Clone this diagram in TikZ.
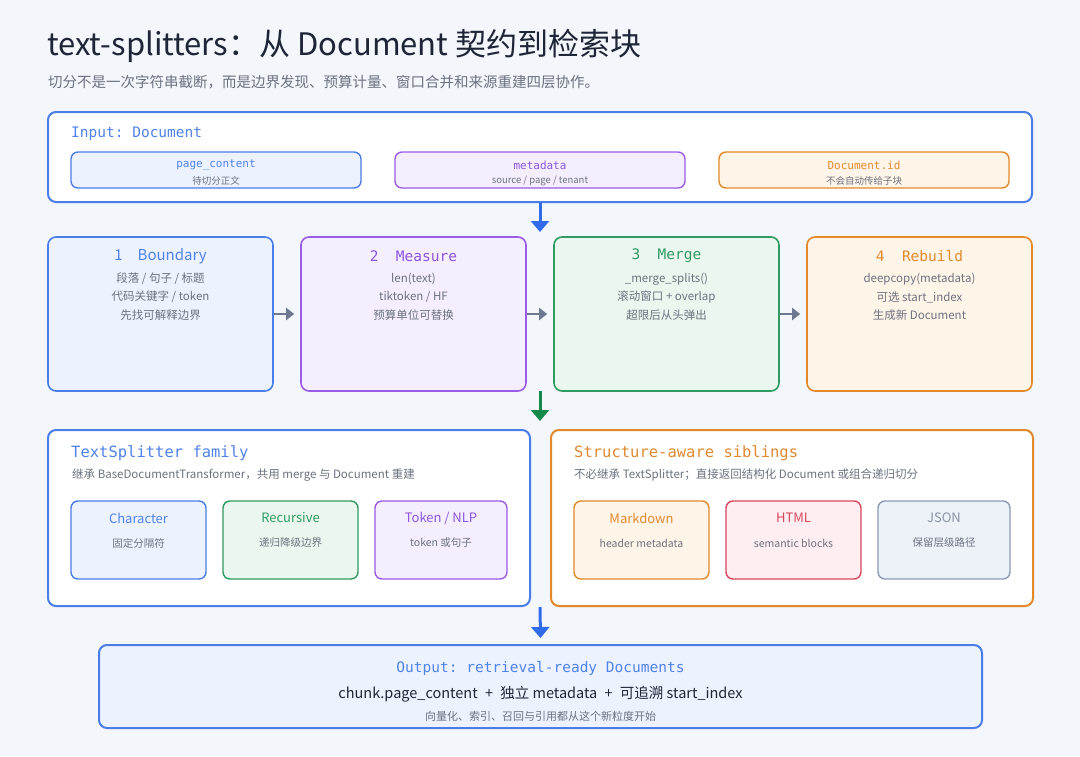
\documentclass[tikz,border=0pt]{standalone}
\usepackage{fontspec}
\setmainfont{Noto Sans CJK SC}
\setmonofont{DejaVu Sans Mono}
\usetikzlibrary{arrows.meta}
\definecolor{bgc}{HTML}{F3F6FA}
\definecolor{darkc}{HTML}{1E2537}
\definecolor{grayc}{HTML}{6B7280}
\definecolor{blueb}{HTML}{4A7DE8}
\definecolor{bluet}{HTML}{4F82EA}
\definecolor{bluef}{HTML}{EDF3FE}
\definecolor{purpb}{HTML}{9A5CE6}
\definecolor{purpt}{HTML}{8C55E0}
\definecolor{purpf}{HTML}{F5EEFE}
\definecolor{greenb}{HTML}{2E9B62}
\definecolor{greent}{HTML}{2F9A64}
\definecolor{greenf}{HTML}{EAF7EE}
\definecolor{orangeb}{HTML}{E2892A}
\definecolor{oranget}{HTML}{E0892E}
\definecolor{orangef}{HTML}{FFF4E8}
\definecolor{redb}{HTML}{D8465E}
\definecolor{redt}{HTML}{D8465E}
\definecolor{redf}{HTML}{FEEEF1}
\definecolor{slateb}{HTML}{8C9BB5}
\definecolor{slatet}{HTML}{8A94A6}
\definecolor{slatef}{HTML}{EDF1F8}
\definecolor{arrblue}{HTML}{2F6BEA}
\definecolor{arrgreen}{HTML}{15894B}
\definecolor{arrgray}{HTML}{6E7891}
\tikzset{
  outerbox/.style={draw, rounded corners=8pt, line width=2pt, inner sep=0pt},
  subbox/.style={draw, rounded corners=7pt, line width=1.4pt, inner sep=0pt},
  txt/.style={inner sep=0pt, anchor=center},
  monolabel/.style={txt, font=\ttfamily\fontsize{11}{13}\selectfont},
  smallgray/.style={txt, text=grayc, font=\fontsize{9.5}{11}\selectfont},
  stagetitle/.style={txt, font=\fontsize{15}{18}\selectfont},
  stagemono/.style={txt, font=\ttfamily\fontsize{14.5}{18}\selectfont},
  stageline/.style={txt, text=grayc, font=\fontsize{11.5}{14}\selectfont},
  grouptitle/.style={inner sep=0pt, anchor=west, font=\ttfamily\fontsize{15.5}{18}\selectfont},
  groupsub/.style={inner sep=0pt, anchor=west, text=grayc, font=\fontsize{11.5}{14}\selectfont},
  childtitle/.style={txt, font=\fontsize{13}{15}\selectfont},
  childsub/.style={txt, text=grayc, font=\fontsize{10.5}{12}\selectfont},
  bigarrow/.style={line width=3pt, -{Triangle[length=11pt,width=18pt]}},
  smallarrow/.style={line width=2.4pt, draw=arrgray, -{Triangle[length=8pt,width=12pt]}},
}
\begin{document}
\begin{tikzpicture}[x=1pt,y=-1pt]
\fill[bgc] (0,0) rectangle (1080,756);
\useasboundingbox (0,0) rectangle (1080,756);

% Title
\node[inner sep=0pt, anchor=base west, text=darkc, font=\fontsize{31}{37}\selectfont] (title) at (47,55) {text-splitters：从 Document 契约到检索块};
\node[inner sep=0pt, anchor=base west, text=grayc, font=\fontsize{14.5}{17}\selectfont] (subtitle) at (48,87) {切分不是一次字符串截断，而是边界发现、预算计量、窗口合并和来源重建四层协作。};

% Input box
\node[outerbox, draw=blueb, fill=white, minimum width=984pt, minimum height=90pt] (input) at (540,157) {};
\node[inner sep=0pt, anchor=west, text=bluet, font=\ttfamily\fontsize{14.5}{17}\selectfont] (inlabel) at (71,134) {Input: Document};
\node[subbox, draw=blueb, fill=bluef, minimum width=290pt, minimum height=36pt] (pc) at (216,170) {};
\node[monolabel, text=bluet] (pcl) at (216,165) {page\_content};
\node[smallgray] (pcs) at (216,181) {待切分正文};
\node[subbox, draw=purpb, fill=purpf, minimum width=290pt, minimum height=36pt] (md) at (540,170) {};
\node[monolabel, text=purpt] (mdl) at (540,165) {metadata};
\node[smallgray] (mds) at (540,181) {source / page / tenant};
\node[subbox, draw=orangeb, fill=orangef, minimum width=290pt, minimum height=36pt] (did) at (864,170) {};
\node[monolabel, text=oranget] (didl) at (864,165) {Document.id};
\node[smallgray] (dids) at (864,181) {不会自动传给子块};

% Stage boxes
\node[outerbox, line width=1.6pt, draw=blueb, fill=bluef, minimum width=225pt, minimum height=154pt] (s1) at (160.5,314) {};
\node[stagetitle, text=bluet] (s1t) at (160.5,256) {1\hspace{1em}Boundary};
\node[stageline] (s1a) at (160.5,279) {段落 / 句子 / 标题};
\node[stageline] (s1b) at (160.5,297) {代码关键字 / token};
\node[stageline] (s1c) at (160.5,315) {先找可解释边界};

\node[outerbox, line width=1.6pt, draw=purpb, fill=purpf, minimum width=225pt, minimum height=154pt] (s2) at (413.5,314) {};
\node[stagemono, text=purpt] (s2t) at (413.5,256) {2\hspace{1.2em}Measure};
\node[stageline] (s2a) at (413.5,279) {len(text)};
\node[stageline] (s2b) at (413.5,297) {tiktoken / HF};
\node[stageline] (s2c) at (413.5,315) {预算单位可替换};

\node[outerbox, line width=1.6pt, draw=greenb, fill=greenf, minimum width=225pt, minimum height=154pt] (s3) at (666.5,314) {};
\node[stagemono, text=greent] (s3t) at (666.5,256) {3\hspace{1.2em}Merge};
\node[stageline] (s3a) at (666.5,279) {\_merge\_splits()};
\node[stageline] (s3b) at (666.5,297) {滚动窗口 + overlap};
\node[stageline] (s3c) at (666.5,315) {超限后从头弹出};

\node[outerbox, line width=1.6pt, draw=orangeb, fill=orangef, minimum width=225pt, minimum height=154pt] (s4) at (919.5,314) {};
\node[stagemono, text=oranget] (s4t) at (919.5,256) {4\hspace{1.2em}Rebuild};
\node[stageline] (s4a) at (919.5,279) {deepcopy(metadata)};
\node[stageline] (s4b) at (919.5,297) {可选 start\_index};
\node[stageline] (s4c) at (919.5,315) {生成新 Document};

\draw[smallarrow] (s1.east) -- ([xshift=-6pt]s2.west);
\draw[smallarrow] (s2.east) -- ([xshift=-6pt]s3.west);
\draw[smallarrow] (s3.east) -- ([xshift=-6pt]s4.west);

% Arrows between rows
\coordinate (a1e) at (540,232);
\draw[bigarrow, draw=arrblue, fill=arrblue] (input.south) -- (a1e);
\coordinate (a2s) at (540,391);
\coordinate (a2e) at (540,421);
\draw[bigarrow, draw=arrgreen, fill=arrgreen] (a2s) -- (a2e);

% TextSplitter family
\node[outerbox, draw=blueb, fill=white, minimum width=482pt, minimum height=176pt] (fam) at (289,518) {};
\node[grouptitle, text=bluet] (famt) at (71,453) {TextSplitter family};
\node[groupsub] (fams) at (72,475) {继承 BaseDocumentTransformer，共用 merge 与 Document 重建};
\node[subbox, draw=blueb, fill=bluef, minimum width=135pt, minimum height=78pt] (c1) at (138.5,540) {};
\node[childtitle, text=bluet] (c1t) at (138.5,518) {Character};
\node[childsub] (c1s) at (138.5,543) {固定分隔符};
\node[subbox, draw=greenb, fill=greenf, minimum width=135pt, minimum height=78pt] (c2) at (290.5,540) {};
\node[childtitle, text=greent] (c2t) at (290.5,518) {Recursive};
\node[childsub] (c2s) at (290.5,543) {递归降级边界};
\node[subbox, draw=purpb, fill=purpf, minimum width=132pt, minimum height=78pt] (c3) at (441,540) {};
\node[childtitle, text=purpt] (c3t) at (441,518) {Token / NLP};
\node[childsub] (c3s) at (441,543) {token 或句子};

% Structure-aware siblings
\node[outerbox, draw=orangeb, fill=white, minimum width=482pt, minimum height=176pt] (sib) at (792,518) {};
\node[grouptitle, text=oranget] (sibt) at (574,453) {Structure-aware siblings};
\node[groupsub] (sibs) at (574,475) {不必继承 TextSplitter；直接返回结构化 Document 或组合递归切分};
\node[subbox, draw=orangeb, fill=orangef, minimum width=135pt, minimum height=78pt] (d1) at (641.5,540) {};
\node[childtitle, text=oranget] (d1t) at (641.5,518) {Markdown};
\node[childsub] (d1s) at (641.5,543) {header metadata};
\node[subbox, draw=redb, fill=redf, minimum width=135pt, minimum height=78pt] (d2) at (793.5,540) {};
\node[childtitle, text=redt] (d2t) at (793.5,518) {HTML};
\node[childsub] (d2s) at (793.5,543) {semantic blocks};
\node[subbox, draw=slateb, fill=slatef, minimum width=132pt, minimum height=78pt] (d3) at (944,540) {};
\node[childtitle, text=slatet] (d3t) at (944,518) {JSON};
\node[childsub] (d3s) at (944,543) {保留层级路径};

% Output
\node[outerbox, draw=blueb, fill=bluef, minimum width=883pt, minimum height=83pt] (out) at (540.5,686.5) {};
\node[txt, text=bluet, font=\ttfamily\fontsize{14.5}{17}\selectfont] (outt) at (540.5,668) {Output: retrieval-ready Documents};
\node[txt, text=darkc, font=\fontsize{14.5}{17}\selectfont] (outm) at (540.5,694) {chunk.page\_content\hspace{0.5em}+\hspace{0.5em}独立 metadata\hspace{0.5em}+\hspace{0.5em}可追溯 start\_index};
\node[txt, text=grayc, font=\fontsize{11}{13}\selectfont] (outs) at (540.5,716) {向量化、索引、召回与引用都从这个新粒度开始};

\coordinate (a3s) at (540,607);
\draw[bigarrow, draw=arrblue, fill=arrblue] (a3s) -- ([yshift=6pt]out.north);
\end{tikzpicture}
\end{document}
